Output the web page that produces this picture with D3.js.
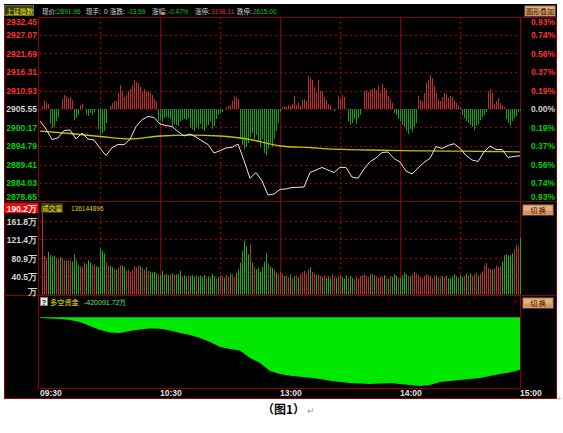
<!DOCTYPE html>
<html><head><meta charset="utf-8">
<script src="https://cdn.jsdelivr.net/npm/d3@7"></script>
<style>body{margin:0;background:#fff}svg{display:block}</style>
</head><body>
<svg id="c" width="563" height="433"></svg>
<script>
// ---------------- DATA ----------------
const prevClose = 2905.55;
const timeTicks = [0, 60, 120, 180, 240];
const timeLabels = ["09:30", "10:30", "13:00", "14:00", "15:00"];
const halfHourTicks = [30, 90, 150, 210];
const priceTicks = [2932.45, 2927.07, 2921.69, 2916.31, 2910.93, 2905.55, 2900.17, 2894.79, 2889.41, 2884.03, 2878.65];
const pctLabels = ["0.93%", "0.74%", "0.56%", "0.37%", "0.19%", "0.00%", "0.19%", "0.37%", "0.56%", "0.74%", "0.93%"];
// price every 3 minutes
const priceStep = 3;
const priceValues = [2902.06,2899.73,2896.68,2897.12,2899.30,2899.44,2896.83,2898.57,2896.83,2896.53,
 2894.12,2892.03,2894.30,2895.23,2895.17,2896.74,2900.46,2902.44,2903.37,2903.08,
 2901.19,2900.75,2900.46,2899.01,2897.70,2898.28,2897.41,2896.24,2895.23,2892.75,
 2893.42,2894.21,2894.41,2895.37,2890.57,2885.40,2887.08,2884.61,2880.54,2880.83,
 2882.20,2882.29,2882.72,2882.78,2882.87,2887.08,2887.81,2888.54,2887.81,2887.08,
 2888.60,2888.54,2885.77,2885.40,2888.10,2890.22,2891.30,2892.90,2893.05,2891.15,
 2890.14,2887.52,2886.65,2888.39,2889.99,2891.21,2894.64,2894.06,2894.94,2895.46,
 2894.12,2892.03,2890.72,2890.28,2893.05,2894.79,2893.77,2893.77,2891.45,2891.74,2891.96];
// average price every 15 minutes
const avgStep = 15;
const avgValues = [2899.15,2898.43,2897.55,2896.83,2897.70,2897.93,2897.70,2896.68,2894.79,
 2894.32,2893.80,2893.63,2893.45,2893.36,2893.28,2893.19,2893.10];
// buy/sell strength bars, every minute (+ red, - green)
const strength = [0,3,8,6,5,-15,-19,-18,-12,-8,0,10,14,13,11,12,9,-11,-9,-6,4,5,0,-5,-7,-4,-6,-3,0,-20,-26,-24,-22,-14,0,
 3,6,8,8,16,24,18,12,14,18,20,24,29,27,26,22,18,20,17,18,16,14,10,8,
 -12,-11,-13,-9,-8,-9,-10,-17,-15,-16,-17,-12,-11,-10,-11,-9,-18,-20,-22,-18,-20,-15,-20,-22,-18,-16,-12,-20,-17,-10,-6,-4,-3,
 0,2,3,4,8,13,12,10,
 -30,-36,-40,-38,-34,-28,-24,-30,-26,-32,-38,-30,-44,-46,-40,-34,-38,-30,-22,-14,
 -3,2,3,2,4,3,5,13,4,6,3,9,10,8,33,31,29,22,16,29,18,18,12,9,5,4,0,-2,0,
 13,10,14,12,0,-12,-16,-14,-10,-15,-9,-6,0,
 18,19,17,19,20,21,19,23,16,25,21,19,13,10,6,
 -4,-6,-10,-12,-16,-18,-22,-25,-20,-23,-18,-14,
 13,9,8,16,26,29,34,31,23,16,10,8,12,16,14,11,13,12,9,6,4,2,
 -6,-9,-12,-14,-16,-18,-21,-17,-15,-11,-8,-6,-3,
 18,20,16,5,8,11,6,4,2,
 -10,-14,-17,-12,-9,-7,-3,-2];
// volume (万) every minute
const volumeValues = [190.2,
 82,85,80,93,86,83,84,80,78,82, 80,75,74,76,73,72,88,75,64,62,
 61,70,66,75,70,64,66,62,60,101, 96,90,71,64,63,60,57,55,58,64,
 64,60,52,55,50,54,62,60,63,62, 58,55,60,52,50,48,50,46,44,43,
 52,44,45,42,44,46,43,44,45,52, 40,42,38,41,40,43,39,42,40,41,
 38,42,36,40,37,45,40,35,38,42, 40,37,43,39,46,44,38,48,55,70,
 95,118,105,88,110,70,62,55,58,50, 60,72,90,68,62,58,55,48,45,50,
 46,40,42,38,44,36,40,42,38,45, 48,52,45,55,60,50,46,42,44,40,
 38,42,36,40,35,44,38,36,40,42, 38,35,42,37,40,36,33,38,35,40,
 42,45,40,38,44,46,42,39,36,40, 38,42,36,35,40,38,44,41,37,36,
 42,48,45,40,38,44,50,46,42,38, 36,40,44,42,38,35,40,42,38,36,
 40,38,42,36,35,39,44,40,37,42, 38,40,45,42,46,40,44,48,42,46,
 50,64,69,58,56,55,58,64,60,62, 72,86,88,85,86,90,99,108,104,123];
const volumeDir = ("r" +
 "rrrggggrrg" + "rrgrrggggr" + "rrgggrrggg" + "ggrrggrgrr" + "ggrrrrrrrg" + "rrgrggggrg" +
 "grggrgrggg" + "rggrgggrgg" + "ggrggggrgr" + "rgrrgrrggg" + "ggggrgrggg" + "gggrggrgrr" +
 "rgrrgrgrgr" + "rrrrgrrgrr" + "grgggrrgrr" + "gggrggrrrr" + "rrrrgrgrrr" + "rgrgrgggrg" +
 "gggrgrrrrr" + "rrrrrrrgrr" + "grrgggggrg" + "grgrgrrrgr" + "rrrrrgrrrr" + "ggggggrrrg").split("");
const volTicks = [161.8, 121.4, 80.9, 40.5, 0];
const volTickLabels = ["161.8万", "121.4万", "80.9万", "40.5万", "万"];
const volMaxLabel = "190.2万";
const volTotal = "136144896";
// 多空资金 (万) every 5 minutes
const moneyStep = 5;
const moneyValues = [-5600,-9600,-13600,-21600,-37600,-69500,-101500,-121500,-125500,-109500,
 -97500,-89500,-90500,-105500,-125500,-141500,-165400,-197400,-237300,-253300,
 -265300,-325200,-365200,-429100,-453100,-466700,-474700,-482700,-493100,-506700,
 -517000,-525000,-529000,-533000,-529000,-525000,-533000,-541000,-549000,-541000,
 -517000,-509000,-501000,-493100,-485100,-469100,-453100,-441100,-420091.72];
const moneyLabel = "-420091.72万";
const header = [
  {t:"现价:", c:"#d8d8d8", x:42}, {t:"2891.96", c:"#00d000", x:57},
  {t:"现手:", c:"#d8d8d8", x:86}, {t:"0", c:"#d8d8d8", x:104},
  {t:"涨跌:", c:"#d8d8d8", x:110}, {t:"-13.59", c:"#00d000", x:127},
  {t:"涨幅:", c:"#d8d8d8", x:152}, {t:"-0.47%", c:"#00d000", x:168},
  {t:"涨停:", c:"#d8d8d8", x:195}, {t:"3198.11", c:"#e03030", x:211},
  {t:"跌停:", c:"#d8d8d8", x:237}, {t:"2615.00", c:"#00d000", x:253}
];

// ---------------- DRAW ----------------
const svg = d3.select("#c");
const NUM = "'Liberation Sans', Arial, sans-serif";
const CJK = "'Noto Sans CJK SC', sans-serif";
const RED = "#ff3030", GRN = "#00d000", GRID = "#a80000", FRAME = "#900000";

const x = d3.scaleLinear().domain([0, 240]).range([40, 520]);
const yP = d3.scaleLinear().domain([2878.65, 2932.45]).range([201.5, 16.5]);
const yS = d3.scaleLinear().domain([-92.5, 92.5]).range([201.5, 16.5]);
const yV = d3.scaleLinear().domain([0, 202.25]).range([294.5, 202]);
const yM = d3.scaleLinear().domain([-565000, 0]).range([388, 317.3]);
const LEFT = 38.5, RIGHT = 520.5;

// black background
svg.append("rect").attr("x", 4).attr("y", 4).attr("width", 553).attr("height", 395).attr("fill", "#000");

// grid
const g = svg.append("g");
g.selectAll(".hp").data(priceTicks.slice(1, -1)).join("line")
  .attr("x1", 40).attr("x2", RIGHT).attr("y1", d => Math.round(yP(d)) + 0.5).attr("y2", d => Math.round(yP(d)) + 0.5)
  .attr("stroke", GRID).attr("stroke-dasharray", "2,3");
g.selectAll(".hv").data(volTicks.slice(0, -1)).join("line")
  .attr("x1", 40).attr("x2", RIGHT).attr("y1", d => Math.round(yV(d)) + 0.5).attr("y2", d => Math.round(yV(d)) + 0.5)
  .attr("stroke", GRID).attr("stroke-dasharray", "2,3");
[[17, 201], [202, 295]].forEach(([a, b]) => {
  g.append("g").selectAll("line").data(halfHourTicks).join("line")
    .attr("x1", d => x(d) + 0.5).attr("x2", d => x(d) + 0.5)
    .attr("y1", a).attr("y2", b).attr("stroke", GRID).attr("stroke-dasharray", "2,3");
  g.append("g").selectAll("line").data(timeTicks.slice(1, -1)).join("line")
    .attr("x1", d => x(d) + 0.5).attr("x2", d => x(d) + 0.5)
    .attr("y1", a).attr("y2", b).attr("stroke", FRAME);
});

// frame lines (even pixel columns)
const fr = svg.append("g").attr("stroke", FRAME).attr("fill", "none");
fr.append("line").attr("x1", 38).attr("x2", 557).attr("y1", 17.5).attr("y2", 17.5);
fr.append("line").attr("x1", 4).attr("x2", 557).attr("y1", 201.5).attr("y2", 201.5);
fr.append("line").attr("x1", 4).attr("x2", 557).attr("y1", 295.5).attr("y2", 295.5);
fr.append("line").attr("x1", 38).attr("x2", RIGHT).attr("y1", 388.5).attr("y2", 388.5);
fr.append("line").attr("x1", 4).attr("x2", 557).attr("y1", 398.5).attr("y2", 398.5);
fr.append("line").attr("x1", LEFT).attr("x2", LEFT).attr("y1", 17).attr("y2", 389);
fr.append("line").attr("x1", RIGHT).attr("x2", RIGHT).attr("y1", 17).attr("y2", 389);
fr.append("line").attr("x1", 4.5).attr("x2", 4.5).attr("y1", 17).attr("y2", 399);
fr.append("line").attr("x1", 556.5).attr("x2", 556.5).attr("y1", 17).attr("y2", 399);

// strength bars
svg.append("g").selectAll("rect").data(strength).join("rect")
  .attr("x", (d, i) => x(i))
  .attr("width", 1)
  .attr("y", d => Math.min(yS(0), yS(d)))
  .attr("height", d => Math.abs(yS(d) - yS(0)))
  .attr("fill", d => d >= 0 ? "#b83030" : "#1c9c1c");

// avg line
svg.append("path").datum(avgValues)
  .attr("d", d3.line().x((d, i) => x(i * avgStep)).y(d => yP(d)).curve(d3.curveMonotoneX))
  .attr("fill", "none").attr("stroke", "#c8c000").attr("stroke-width", 1.3);
// price line
svg.append("path").datum(priceValues)
  .attr("d", d3.line().x((d, i) => x(i * priceStep)).y(d => yP(d)))
  .attr("fill", "none").attr("stroke", "#e8e8e8").attr("stroke-width", 1);

// volume bars
svg.append("g").selectAll("rect").data(volumeValues).join("rect")
  .attr("x", (d, i) => x(i) + (i === 0 ? 2 : 0))
  .attr("width", 1)
  .attr("y", d => yV(d)).attr("height", d => yV(0) - yV(d))
  .attr("fill", (d, i) => volumeDir[i] === "g" ? "#22a822" : "#b03636");

// money area
svg.append("path").datum(moneyValues)
  .attr("d", d3.area().x((d, i) => x(i * moneyStep)).y0(yM(0)).y1(d => yM(d)))
  .attr("fill", "#00e800");

// price labels left / right
const n = priceTicks.length;
const labY = (d, i) => i === 0 ? 24.5 : i === n - 1 ? 200 : yP(d) + 3;
const colorOf = d => d > prevClose ? RED : d < prevClose ? GRN : "#d0d0d0";
svg.append("g").selectAll("text").data(priceTicks).join("text")
  .attr("x", 37).attr("y", labY).attr("text-anchor", "end")
  .attr("font-family", NUM).attr("font-size", 8.5).attr("font-weight", "bold")
  .attr("fill", colorOf).text(d => d.toFixed(2));
svg.append("g").selectAll("text").data(priceTicks).join("text")
  .attr("x", 555).attr("y", labY).attr("text-anchor", "end")
  .attr("font-family", NUM).attr("font-size", 8.5).attr("font-weight", "bold")
  .attr("fill", colorOf).text((d, i) => pctLabels[i]);

// volume labels
svg.append("rect").attr("x", 4).attr("y", 203).attr("width", 34).attr("height", 10).attr("fill", "#ff0000");
svg.append("text").attr("x", 37).attr("y", 211.5).attr("text-anchor", "end")
  .attr("font-family", NUM).attr("font-size", 8.5).attr("font-weight", "bold").attr("fill", "#fff").text(volMaxLabel);
svg.append("g").selectAll("text").data(volTicks).join("text")
  .attr("x", 37).attr("y", (d, i) => i === volTicks.length - 1 ? 295 : yV(d) + 4)
  .attr("text-anchor", "end")
  .attr("font-family", NUM).attr("font-size", 8.5).attr("font-weight", "bold").attr("fill", "#d8d8d8")
  .text((d, i) => volTickLabels[i]);

// x labels
svg.append("g").selectAll("text").data(timeTicks).join("text")
  .attr("x", d => x(d)).attr("y", 396)
  .attr("font-family", NUM).attr("font-size", 8.5).attr("font-weight", "bold").attr("fill", "#e0e0e0")
  .text((d, i) => timeLabels[i]);

// header
svg.append("rect").attr("x", 4.5).attr("y", 5.5).attr("width", 29).attr("height", 10)
  .attr("fill", "#3a3a14").attr("stroke", "#6a6a40");
svg.append("text").attr("x", 6).attr("y", 14).attr("font-family", CJK).attr("font-size", 6.8)
  .attr("fill", "#f0f000").text("上证指数");
svg.append("g").selectAll("text").data(header).join("text")
  .attr("x", d => d.x).attr("y", 13.5)
  .attr("font-family", d => /[0-9]/.test(d.t) ? NUM : CJK)
  .attr("font-size", 6.5)
  .attr("fill", d => d.c).text(d => d.t);

// buttons
function button(bx, by, w, h, label) {
  svg.append("rect").attr("x", bx + 0.5).attr("y", by + 0.5).attr("width", w).attr("height", h)
    .attr("fill", "#d8935a").attr("stroke", "#3a3a5a");
  svg.append("rect").attr("x", bx + 2).attr("y", by + 2).attr("width", w - 3).attr("height", h / 2 - 1).attr("fill", "#eab07a");
  svg.append("text").attr("x", bx + w / 2 + 0.5).attr("y", by + h - 2).attr("text-anchor", "middle")
    .attr("font-family", CJK).attr("font-size", 7).attr("fill", "#201008").text(label);
}
button(524, 5, 31, 11, "图形叠加");
button(522, 204, 31, 11, "切 换");
button(522, 297, 31, 11, "切 换");
svg.append("text").attr("x", 513).attr("y", 304).attr("font-family", NUM).attr("font-size", 8).attr("fill", "#a00000").text("×");

// volume header
svg.append("rect").attr("x", 41).attr("y", 203).attr("width", 22).attr("height", 10).attr("fill", "#3a3a14");
svg.append("text").attr("x", 42).attr("y", 211).attr("font-family", CJK).attr("font-size", 6.8).attr("fill", "#f0f000").text("成交量");
svg.append("text").attr("x", 71).attr("y", 211).attr("font-family", NUM).attr("font-size", 6.5).attr("fill", "#d8d800").text(volTotal);

// money header
svg.append("rect").attr("x", 40.5).attr("y", 297.5).attr("width", 7).attr("height", 8).attr("fill", "#f0f0f0").attr("stroke", "#808080");
svg.append("text").attr("x", 44).attr("y", 304.5).attr("text-anchor", "middle").attr("font-family", NUM).attr("font-size", 7).attr("font-weight", "bold").attr("fill", "#000").text("?");
svg.append("text").attr("x", 50).attr("y", 305).attr("font-family", CJK).attr("font-size", 7.2).attr("fill", "#f0f000").text("多空资金");
svg.append("text").attr("x", 84).attr("y", 305).attr("font-family", NUM).attr("font-size", 7).attr("fill", "#70e070").text(moneyLabel);

// caption
svg.append("text").attr("x", 262).attr("y", 414).attr("font-family", CJK).attr("font-size", 12).attr("font-weight", "bold")
  .attr("fill", "#000").text("（图1）");
svg.append("text").attr("x", 307).attr("y", 414).attr("font-family", NUM).attr("font-size", 9).attr("fill", "#999").text("↵");
svg.append("text").attr("x", 557).attr("y", 401).attr("font-family", NUM).attr("font-size", 8).attr("fill", "#aaa").text("+");
</script>
</body></html>
